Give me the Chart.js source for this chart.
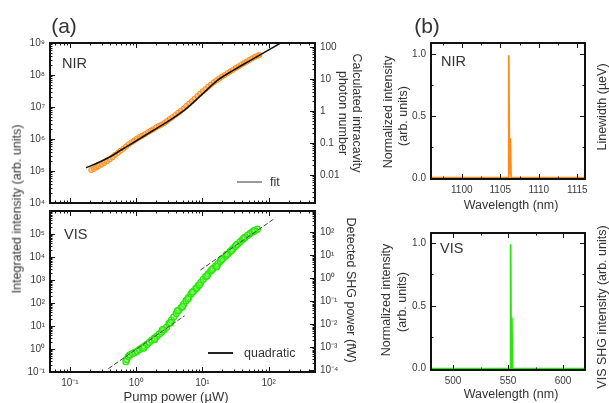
<!DOCTYPE html>
<html>
<head>
<meta charset="utf-8">
<script src="https://cdn.jsdelivr.net/npm/chart.js@4/dist/chart.umd.min.js"></script>
<style>
  body { margin: 0; background: #fff; font-family: "Liberation Sans", Arial, sans-serif; color: #333; }
  #wrap { position: relative; width: 609px; height: 403px; overflow: hidden; }
  canvas { position: absolute; left: 0; top: 0; }
  .t { position: absolute; white-space: nowrap; line-height: 1; }
  .leg { position: absolute; height: 1.5px; }
</style>
</head>
<body>
<div id="wrap">
  <canvas id="nirPowerChart" width="609" height="403"></canvas>
  <canvas id="visPowerChart" width="609" height="403"></canvas>
  <canvas id="nirSpecChart" width="609" height="403"></canvas>
  <canvas id="visSpecChart" width="609" height="403"></canvas>
</div>
<script>
// (a) NIR: integrated intensity vs pump power (uW)
const nirPower = [0.21, 0.23, 0.25, 0.27, 0.30, 0.33, 0.36, 0.40, 0.44, 0.48,
                  0.53, 0.58, 0.64, 0.70, 0.77, 0.85, 0.93, 1.02, 1.12, 1.23,
                  1.35, 1.5, 1.65, 1.8, 2.0, 2.2, 2.4, 2.65, 2.9, 3.2,
                  3.5, 3.9, 4.3, 4.7, 5.2, 5.7, 6.3, 6.9, 7.6, 8.4,
                  9.2, 10.1, 11.1, 12.2, 13.4, 14.8, 16.3, 17.9, 19.7, 21.7,
                  23.9, 26.3, 28.9, 31.8, 35, 38.5, 42.3, 46.5, 51, 56,
                  62, 68, 72];
const nirIntensity = [1.07e5, 1.17e5, 1.29e5, 1.41e5, 1.58e5, 1.78e5, 2.0e5, 2.3e5, 2.7e5, 3.2e5,
                      3.7e5, 4.3e5, 5.0e5, 5.8e5, 6.8e5, 7.9e5, 8.9e5, 1.02e6, 1.15e6, 1.26e6,
                      1.41e6, 1.62e6, 1.82e6, 2.0e6, 2.3e6, 2.57e6, 2.8e6, 3.16e6, 3.6e6, 4.2e6,
                      4.8e6, 5.6e6, 6.6e6, 7.6e6, 8.9e6, 1.07e7, 1.29e7, 1.51e7, 1.82e7, 2.2e7,
                      2.6e7, 3.1e7, 3.6e7, 4.3e7, 5.0e7, 5.9e7, 6.8e7, 7.8e7, 8.9e7, 1.0e8,
                      1.15e8, 1.29e8, 1.45e8, 1.66e8, 1.86e8, 2.1e8, 2.35e8, 2.6e8, 2.95e8, 3.3e8,
                      3.7e8, 4.0e8, 4.2e8];
const fitPower = [0.175, 0.25, 0.38, 0.6, 1.07, 1.8, 3.0, 5.4, 9.5, 17, 30, 60, 170];
const fitIntensity = [1.26e5, 1.72e5, 2.6e5, 4.6e5, 9.5e5, 1.85e6, 3.5e6, 8.1e6, 2.3e7, 6.9e7, 1.45e8, 3.3e8, 1.15e9];

// (a) VIS: SHG intensity vs pump power
const visPower = [0.70, 0.72, 0.76, 0.80, 0.88, 0.95, 1.03, 1.12, 1.22, 1.33,
                  1.45, 1.58, 1.72, 1.87, 2.04, 2.22, 2.42, 2.63, 2.87, 3.12,
                  3.40, 3.70, 4.03, 4.39, 4.78, 5.2, 5.66, 6.17, 6.72, 7.3,
                  7.95, 8.66, 9.43, 10.3, 11.2, 12.2, 13.3, 14.5, 15.8, 17.2,
                  18.7, 20.4, 22.2, 24.2, 26.4, 28.7, 31.3, 34.1, 37.1, 40.4,
                  44.0, 48.0, 52.3, 57, 62, 67.5,
                  1.3, 1.9, 2.5, 3.3, 4.2, 5.0, 6.0, 7.0, 8.2, 9.0,
                  11.7, 13.9, 16.5, 19.5, 23.2, 27.5, 32.7, 42, 60];
const visIntensity = [0.28, 0.35, 0.47, 0.55, 0.63, 0.71, 0.79, 0.95, 1.12, 1.32,
                      1.58, 1.95, 2.4, 2.95, 3.5, 4.4, 5.5, 6.8, 8.9, 13,
                      18, 25, 35, 48, 63, 89, 126, 174, 240, 316,
                      427, 575, 794, 1070, 1410, 1860, 2450, 3160, 3980, 5130,
                      6610, 8510, 10700, 13800, 17800, 22900, 28800, 36300, 46800, 57500,
                      70800, 87000, 105000, 123000, 141000, 162000,
                      1.1, 2.6, 6.9, 14, 46, 70, 150, 300, 450, 600,
                      1500, 2800, 3800, 7800, 13000, 19000, 34000, 66000, 140000];
const quadLowPower = [0.38, 5.4];
const quadLowIntensity = [0.14, 28];
const quadHighPower = [9.3, 126];
const quadHighIntensity = [2700, 5.0e5];

// (b) spectra
const nirWavelength = [1096, 1106.0, 1106.1, 1106.2, 1106.3, 1106.4, 1116];
const nirSpectrum = [0, 0, 0.99, 0.03, 0.32, 0, 0];
const visWavelength = [480, 552.0, 552.4, 552.9, 553.5, 554.0, 620];
const visSpectrum = [0, 0, 0.99, 0.03, 0.41, 0, 0];

// tick labels
const nirTicks = [1e4, 1e5, 1e6, 1e7, 1e8, 1e9];
const photonTicks = [0.01, 0.1, 1, 10, 100];
const visTicks = [1e-1, 1e0, 1e1, 1e2, 1e3, 1e4, 1e5];
const shgTicks = [1e-4, 1e-3, 1e-2, 1e-1, 1e0, 1e1, 1e2];
const powerTicks = [0.1, 1, 10, 100];
const nirWlTicks = [1100, 1105, 1110, 1115];
const visWlTicks = [500, 550, 600];
const normTicks = [0, 0.5, 1.0];

const ORANGE = 'rgb(255,140,25)';
const GREEN = 'rgb(40,232,10)';

Chart.defaults.font.family = '"Liberation Sans", Arial, sans-serif';
Chart.defaults.animation = false;
Chart.defaults.responsive = false;

const SUP = { '-': '⁻', '0': '⁰', '1': '¹', '2': '²', '3': '³', '4': '⁴', '5': '⁵', '6': '⁶', '7': '⁷', '8': '⁸', '9': '⁹' };
const pow10 = v => '10' + String(Math.round(Math.log10(v))).split('').map(c => SUP[c]).join('');
const pairs = (xs, ys) => xs.map((x, i) => ({ x: x, y: ys[i] }));

function tickList(scale, step) {
  const out = [];
  if (scale.type === 'logarithmic') {
    const lo = Math.floor(Math.log10(scale.min)), hi = Math.ceil(Math.log10(scale.max));
    for (let e = lo; e <= hi; e++) {
      for (let k = 1; k < 10; k++) {
        const v = k * Math.pow(10, e);
        if (v >= scale.min * 0.999 && v <= scale.max * 1.001) out.push([v, k === 1]);
      }
    }
  } else {
    const [major, minor] = step;
    const first = Math.ceil(scale.min / minor - 1e-9);
    for (let i = first; i * minor <= scale.max + 1e-9; i++) {
      const v = i * minor;
      out.push([v, Math.abs(v / major - Math.round(v / major)) < 1e-6]);
    }
  }
  return out;
}

// inward ticks on all four sides plus a heavy frame
const frameTicks = {
  id: 'frameTicks',
  afterDatasetsDraw(chart, args, opts) {
    const { ctx, chartArea: a, scales } = chart;
    ctx.save();
    ctx.strokeStyle = '#111';
    ctx.lineWidth = 1;
    ctx.beginPath();
    for (const [side, id] of Object.entries(opts.sides)) {
      const s = scales[id];
      for (const [v, major] of tickList(s, (opts.steps || {})[id])) {
        const len = major ? 5 : 2.5;
        const p = Math.round(s.getPixelForValue(v)) + 0.5;
        if (side === 'bottom') { ctx.moveTo(p, a.bottom); ctx.lineTo(p, a.bottom - len); }
        if (side === 'top') { ctx.moveTo(p, a.top); ctx.lineTo(p, a.top + len); }
        if (side === 'left') { ctx.moveTo(a.left, p); ctx.lineTo(a.left + len, p); }
        if (side === 'right') { ctx.moveTo(a.right, p); ctx.lineTo(a.right - len, p); }
      }
    }
    ctx.stroke();
    ctx.lineWidth = 2;
    ctx.strokeRect(a.left, a.top, a.right - a.left, a.bottom - a.top);
    ctx.restore();
  }
};

function labelAxis(type, position, min, max, values, fmt, size) {
  return {
    type: type, position: position, min: min, max: max,
    grid: { display: false, drawTicks: false },
    border: { display: false },
    afterBuildTicks: s => { s.ticks = values.map(v => ({ value: v })); },
    afterFit: s => { if (position === 'left' || position === 'right') s.width = size; else s.height = size; },
    ticks: { autoSkip: false, maxRotation: 0, padding: 5, color: '#3a3a3a', font: { size: 10 }, callback: fmt }
  };
}

const basePlugins = { legend: { display: false }, tooltip: { enabled: false } };

// (a) top: NIR
new Chart(document.getElementById('nirPowerChart'), {
  type: 'scatter',
  data: {
    datasets: [
      { data: pairs(fitPower, fitIntensity), showLine: true, borderColor: '#111', borderWidth: 1.6,
        pointRadius: 0, cubicInterpolationMode: 'monotone' },
      { data: pairs(nirPower, nirIntensity), borderColor: ORANGE, backgroundColor: 'rgba(255,165,80,0.55)',
        pointRadius: 2.6, borderWidth: 1 }
    ]
  },
  options: {
    layout: { padding: { left: 10, right: 244, top: 43, bottom: 200 } },
    scales: {
      x: { type: 'logarithmic', min: 0.05, max: 500, display: false },
      y: labelAxis('logarithmic', 'left', 1e4, 1e9, nirTicks, v => pow10(v), 40),
      y2: labelAxis('logarithmic', 'right', 1.334e-3, 133.4, photonTicks, v => String(v), 50)
    },
    plugins: Object.assign({ frameTicks: { sides: { top: 'x', bottom: 'x', left: 'y', right: 'y2' } } }, basePlugins)
  },
  plugins: [frameTicks]
});

// (a) bottom: VIS
new Chart(document.getElementById('visPowerChart'), {
  type: 'scatter',
  data: {
    datasets: [
      { data: pairs(quadLowPower, quadLowIntensity), showLine: true, borderColor: '#444', borderWidth: 1,
        borderDash: [5, 2], pointRadius: 0 },
      { data: pairs(quadHighPower, quadHighIntensity), showLine: true, borderColor: '#444', borderWidth: 1,
        borderDash: [5, 2], pointRadius: 0 },
      { data: pairs(visPower, visIntensity), borderColor: GREEN, backgroundColor: 'rgba(150,255,120,0.35)',
        pointRadius: 3, borderWidth: 1.3 }
    ]
  },
  options: {
    layout: { padding: { left: 10, right: 244, top: 211, bottom: 11 } },
    scales: {
      x: labelAxis('logarithmic', 'bottom', 0.05, 500, powerTicks, v => pow10(v), 20),
      y: labelAxis('logarithmic', 'left', 0.1, 1e6, visTicks, v => pow10(v), 40),
      y2: labelAxis('logarithmic', 'right', 8.43e-5, 843, shgTicks, v => pow10(v), 50)
    },
    plugins: Object.assign({ frameTicks: { sides: { top: 'x', bottom: 'x', left: 'y', right: 'y2' } } }, basePlugins)
  },
  plugins: [frameTicks]
});

// (b) top: NIR spectrum
new Chart(document.getElementById('nirSpecChart'), {
  type: 'scatter',
  data: {
    datasets: [
      { data: pairs(nirWavelength, nirSpectrum), showLine: true, borderColor: ORANGE, borderWidth: 1.8,
        pointRadius: 0 }
    ]
  },
  options: {
    layout: { padding: { left: 401, right: 24, top: 43, bottom: 204 } },
    scales: {
      x: labelAxis('linear', 'bottom', 1096, 1116, nirWlTicks, v => String(v), 20),
      y: labelAxis('linear', 'left', -0.01, 1.09, normTicks, v => v.toFixed(1), 30)
    },
    plugins: Object.assign({ frameTicks: { sides: { top: 'x', bottom: 'x', left: 'y', right: 'y' },
      steps: { x: [5, 2.5], y: [0.5, 0.25] } } }, basePlugins)
  },
  plugins: [frameTicks]
});

// (b) bottom: VIS spectrum
new Chart(document.getElementById('visSpecChart'), {
  type: 'scatter',
  data: {
    datasets: [
      { data: pairs(visWavelength, visSpectrum), showLine: true, borderColor: GREEN, borderWidth: 1.8,
        pointRadius: 0 }
    ]
  },
  options: {
    layout: { padding: { left: 401, right: 24, top: 233, bottom: 13 } },
    scales: {
      x: labelAxis('linear', 'bottom', 480, 620, visWlTicks, v => String(v), 20),
      y: labelAxis('linear', 'left', -0.01, 1.08, normTicks, v => v.toFixed(1), 30)
    },
    plugins: Object.assign({ frameTicks: { sides: { top: 'x', bottom: 'x', left: 'y', right: 'y' },
      steps: { x: [50, 25], y: [0.5, 0.25] } } }, basePlugins)
  },
  plugins: [frameTicks]
});

// text: panel letters, axis titles, labels, legends
const wrap = document.getElementById('wrap');
function addText(txt, x, y, size, rot, anchor) {
  const d = document.createElement('div');
  d.className = 't';
  d.textContent = txt;
  d.style.fontSize = size + 'px';
  d.style.left = x + 'px';
  d.style.top = y + 'px';
  if (anchor === 'left') d.style.transform = 'translate(0,-50%)';
  else d.style.transform = 'translate(-50%,-50%) rotate(' + (rot || 0) + 'deg)';
  wrap.appendChild(d);
}
function addLine(x1, x2, y, color) {
  const d = document.createElement('div');
  d.className = 'leg';
  d.style.left = x1 + 'px';
  d.style.width = (x2 - x1) + 'px';
  d.style.top = (y - 0.75) + 'px';
  d.style.background = color;
  wrap.appendChild(d);
}

addText('(a)', 64, 25, 21, 0);
addText('(b)', 427, 25, 21, 0);
addText('NIR', 62, 63, 14.5, 0, 'left');
addText('VIS', 64, 234, 14.5, 0, 'left');
addText('NIR', 441, 61, 14.5, 0, 'left');
addText('VIS', 440, 248, 14.5, 0, 'left');

addText('Integrated intensity (arb. units)', 17, 209, 12.5, -90);
addText('Pump power (\u00b5W)', 176, 396, 13, 0);
addText('Calculated intracavity', 357, 113, 12.5, 90);
addText('photon number', 343, 113, 12.5, 90);
addText('Detected SHG power (fW)', 351, 290, 12.5, 90);

addText('Normalized intensity', 388, 112, 12.5, -90);
addText('(arb. units)', 403, 116, 12.5, -90);
addText('Linewidth (\u00b5eV)', 602, 107, 12.5, -90);
addText('Wavelength  (nm)', 511, 205, 12.5, 0);

addText('Normalized intensity', 386, 300, 12.5, -90);
addText('(arb. units)', 402, 302, 12.5, -90);
addText('VIS SHG intensity (arb. units)', 602, 307, 12.5, -90);
addText('Wavelength  (nm)', 511, 394, 12.5, 0);

addLine(237, 262, 182, '#999');
addText('fit', 270, 182, 12.5, 0, 'left');
addLine(208, 233, 353, '#222');
addText('quadratic', 244, 353, 12.5, 0, 'left');
</script>
</body>
</html>
